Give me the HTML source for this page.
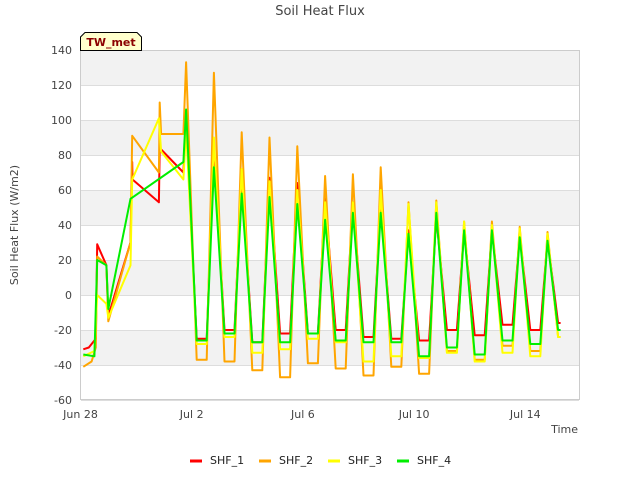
<!DOCTYPE html>
<html><head><meta charset="utf-8"><style>
body{margin:0;background:#fff;}
svg{display:block;font-family:"DejaVu Sans","Liberation Sans",sans-serif;}
</style></head><body>
<svg id="chart" width="640" height="480" viewBox="0 0 640 480">
<text x="320" y="15" text-anchor="middle" font-size="13" fill="#444">Soil Heat Flux</text>
<g id="bands"></g>
<g id="yaxis"></g>
<g id="xaxis"></g>
<rect x="80.5" y="50.5" width="499" height="349" fill="none" stroke="#ccc"/>
<g id="series"></g>
<text transform="translate(18,225) rotate(-90)" text-anchor="middle" font-size="11" fill="#444">Soil Heat Flux (W/m2)</text>
<text x="578" y="433" text-anchor="end" font-size="11" fill="#444">Time</text>
<g>
<path d="M80.5,50.5 L80.5,37 L85,32.5 L137,32.5 L141.5,37 L141.5,50.5 Z" fill="#ffffcc" stroke="#000"/>
<text x="111" y="46" text-anchor="middle" font-size="11" font-weight="bold" fill="#8b0000">TW_met</text>
</g>
<g id="legend"></g>
</svg>
<script>
const seriesNames=["SHF_1","SHF_2","SHF_3","SHF_4"];
const seriesColors=["#ff0000","#ffa500","#ffff00","#00ee00"];
const yTicks=[-60,-40,-20,0,20,40,60,80,100,120,140];
const xTickDays=[0,4,8,12,16];
const xTickLabels=["Jun 28","Jul 2","Jul 6","Jul 10","Jul 14"];
// early irregular segment: [day since Jun 28, value]
const early1=[[0.1,-31],[0.3,-30],[0.55,-25],[0.6,29],[0.93,17],[1.0,-12],[1.8,30],[1.86,76],[1.87,66],[2.82,53],[2.85,84],[3.7,70]];
const early2=[[0.1,-41],[0.4,-38],[0.55,-30],[0.6,22],[0.93,17],[1.0,-15],[1.8,30],[1.86,91],[2.82,70],[2.85,110],[2.9,92],[3.7,92]];
const early3=[[0.1,-35],[0.5,-32],[0.6,0],[0.93,-5],[1.0,-13],[1.8,17],[1.86,66],[2.82,101],[2.9,82],[3.7,66]];
const early4=[[0.1,-34],[0.5,-35],[0.6,20],[0.93,17],[1.0,-8],[1.8,55],[3.7,76]];
// daily peaks Jul1..Jul14
const peaks1=[100,85,68,67,64,55,53,52,37,45,37,37,34,32];
const peaks2=[133,127,93,90,85,68,69,73,53,54,42,42,39,36];
const peaks3=[95,90,72,65,60,53,53,60,52,53,42,40,38,35];
const peaks4=[106,73,58,56,52,43,47,47,35,47,37,37,33,31];
// troughs following each peak
const troughs1=[-25,-20,-27,-22,-22,-20,-24,-25,-26,-20,-23,-17,-20,-16];
const troughs2=[-37,-38,-43,-47,-39,-42,-46,-41,-45,-32,-37,-29,-32,-24];
const troughs3=[-28,-24,-33,-31,-25,-27,-38,-35,-36,-33,-38,-33,-35,-24];
const troughs4=[-26,-22,-27,-27,-22,-26,-27,-27,-35,-30,-34,-26,-28,-20];
const firstPeakDay=3.8, endDay=17.27;

const NS="http://www.w3.org/2000/svg";
const X0=80.5,PXD=27.8,Y0=295,PXU=1.75;
const xs=d=>X0+d*PXD, ys=v=>Y0-v*PXU;
function mk(tag,attrs,parent){const e=document.createElementNS(NS,tag);for(const k in attrs)e.setAttribute(k,attrs[k]);parent.appendChild(e);return e;}
const bands=document.getElementById('bands');
[[120,140],[80,100],[40,60],[0,20],[-40,-20]].forEach(b=>{
 const r=mk('rect',{x:81,y:ys(b[1]),width:498,height:ys(b[0])-ys(b[1]),fill:'#f2f2f2'},bands);
 
 
});
const ya=document.getElementById('yaxis');
yTicks.forEach(v=>{
 const l=mk('line',{x1:81,x2:579,y1:ys(v)+0.5,y2:ys(v)+0.5,stroke:'#ddd'},ya);
 
 
 const t=mk('text',{x:72,y:ys(v)+4,'text-anchor':'end','font-size':11,fill:'#444'},ya);
 t.textContent=v;
 
 
});
const xa=document.getElementById('xaxis');
xTickDays.forEach((d,i)=>{
 const t=mk('text',{x:xs(d),y:418,'text-anchor':'middle','font-size':11,fill:'#444'},xa);
 t.textContent=xTickLabels[i];
 
 
});
const early=[early1,early2,early3,early4],peaks=[peaks1,peaks2,peaks3,peaks4],troughs=[troughs1,troughs2,troughs3,troughs4];
const sg=document.getElementById('series');
seriesNames.forEach((name,i)=>{
 const pts=early[i].slice();
 peaks[i].forEach((p,n)=>{
  const P=firstPeakDay+n;
  pts.push([P,p]);
  const tr=troughs[i][n];
  if(P+1<endDay){pts.push([P+0.38,tr]);pts.push([P+0.74,tr]);}
  else{pts.push([P+0.38,tr]);pts.push([endDay,tr]);}
 });
 const d=pts.map((p,k)=>(k?'L':'M')+xs(p[0]).toFixed(1)+','+ys(p[1]).toFixed(1)).join(' ');
 const path=mk('path',{d:d,fill:'none',stroke:seriesColors[i],'stroke-width':2,'stroke-linejoin':'round'},sg);
 
 
});
const lg=document.getElementById('legend');
const lx=[190,259,328,397];
seriesNames.forEach((name,i)=>{
 const g=mk('g',{},lg);
 
 
 mk('line',{x1:lx[i],x2:lx[i]+12,y1:461,y2:461,stroke:seriesColors[i],'stroke-width':3},g);
 const t=mk('text',{x:lx[i]+20,y:464,'font-size':11,fill:'#222'},g);
 t.textContent=name;
});
</script>
</body></html>
